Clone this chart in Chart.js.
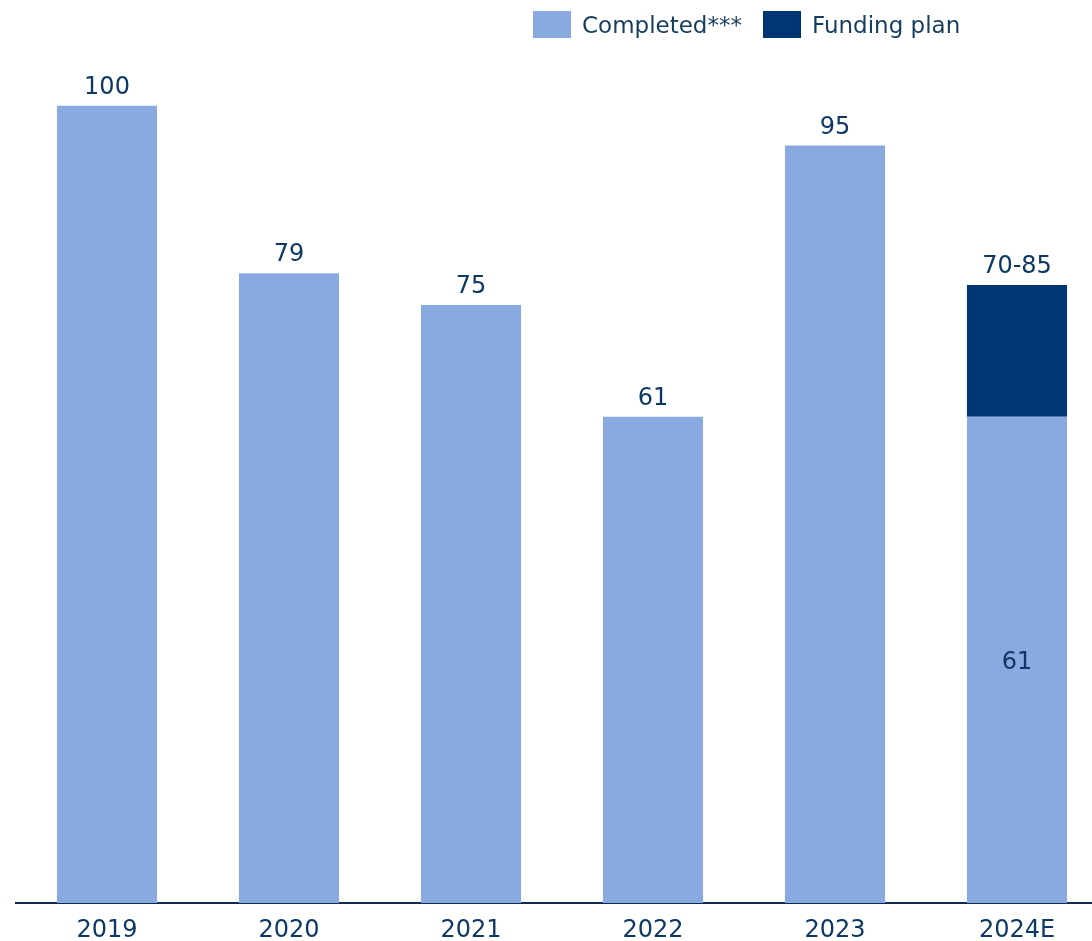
<!DOCTYPE html>
<html>
<head>
<meta charset="utf-8">
<script src="https://cdn.jsdelivr.net/npm/chart.js@4/dist/chart.umd.min.js"></script>
<style>
  html, body { margin: 0; padding: 0; overflow: hidden; background: #ffffff; width: 1092px; height: 941px; }
  #wrap { position: relative; width: 1110px; height: 959px; }
  #legend { position: absolute; top: 11px; left: 533px; display: flex; align-items: center; font-family: "DejaVu Sans", sans-serif; font-size: 23px; color: #173d5c; }
  .item { display: flex; align-items: center; margin-right: 21px; }
  .box { width: 38px; height: 27px; margin-right: 11px; }
</style>
</head>
<body>
<div id="wrap">
  <canvas id="c" width="1110" height="959"></canvas>
  <div id="legend">
    <div class="item"><span class="box" style="background:#89aae0"></span><span>Completed***</span></div>
    <div class="item"><span class="box" style="background:#003574"></span><span>Funding plan</span></div>
  </div>
</div>
<script>
const categories = ["2019", "2020", "2021", "2022", "2023", "2024E"];
const completed = [100, 79, 75, 61, 95, 61];
const fundingPlan = [0, 0, 0, 0, 0, 16.5];
const topLabels = ["100", "79", "75", "61", "95", "70-85"];
const innerLabels = ["", "", "", "", "", "61"];

const TEXT = "#0e3864";
const FONT = '"DejaVu Sans", sans-serif';

const labelPlugin = {
  id: "valueLabels",
  afterDatasetsDraw(chart) {
    const ctx = chart.ctx;
    const m0 = chart.getDatasetMeta(0);
    const m1 = chart.getDatasetMeta(1);
    ctx.save();
    ctx.font = "24px " + FONT;
    ctx.fillStyle = TEXT;
    ctx.textAlign = "center";
    ctx.textBaseline = "alphabetic";
    categories.forEach((c, i) => {
      const b0 = m0.data[i];
      const b1 = m1.data[i];
      const topY = fundingPlan[i] > 0 ? b1.y : b0.y;
      ctx.fillText(topLabels[i], b0.x, topY - 12);
      if (innerLabels[i]) {
        const mid = (b0.y + b0.base) / 2;
        ctx.fillText(innerLabels[i], b0.x, mid + 9);
      }
    });
    ctx.restore();
  }
};

new Chart(document.getElementById("c"), {
  type: "bar",
  data: {
    labels: categories,
    datasets: [
      { label: "Completed***", data: completed, backgroundColor: "#89aae0", stack: "s", barPercentage: 0.55, categoryPercentage: 1 },
      { label: "Funding plan", data: fundingPlan, backgroundColor: "#003574", stack: "s", barPercentage: 0.55, categoryPercentage: 1 }
    ]
  },
  options: {
    responsive: false,
    animation: false,
    events: [],
    layout: { padding: { left: 16, right: 2, top: 26, bottom: 0 } },
    plugins: { legend: { display: false }, tooltip: { enabled: false } },
    scales: {
      x: {
        stacked: true,
        grid: { display: false, drawTicks: false },
        border: { display: true, color: "#0b2b4f", width: 2 },
        ticks: { color: TEXT, font: { family: FONT, size: 24, lineHeight: 1 }, padding: 16 }
      },
      y: {
        stacked: true,
        display: false,
        min: 0,
        max: 110
      }
    }
  },
  plugins: [labelPlugin]
});
</script>
</body>
</html>
